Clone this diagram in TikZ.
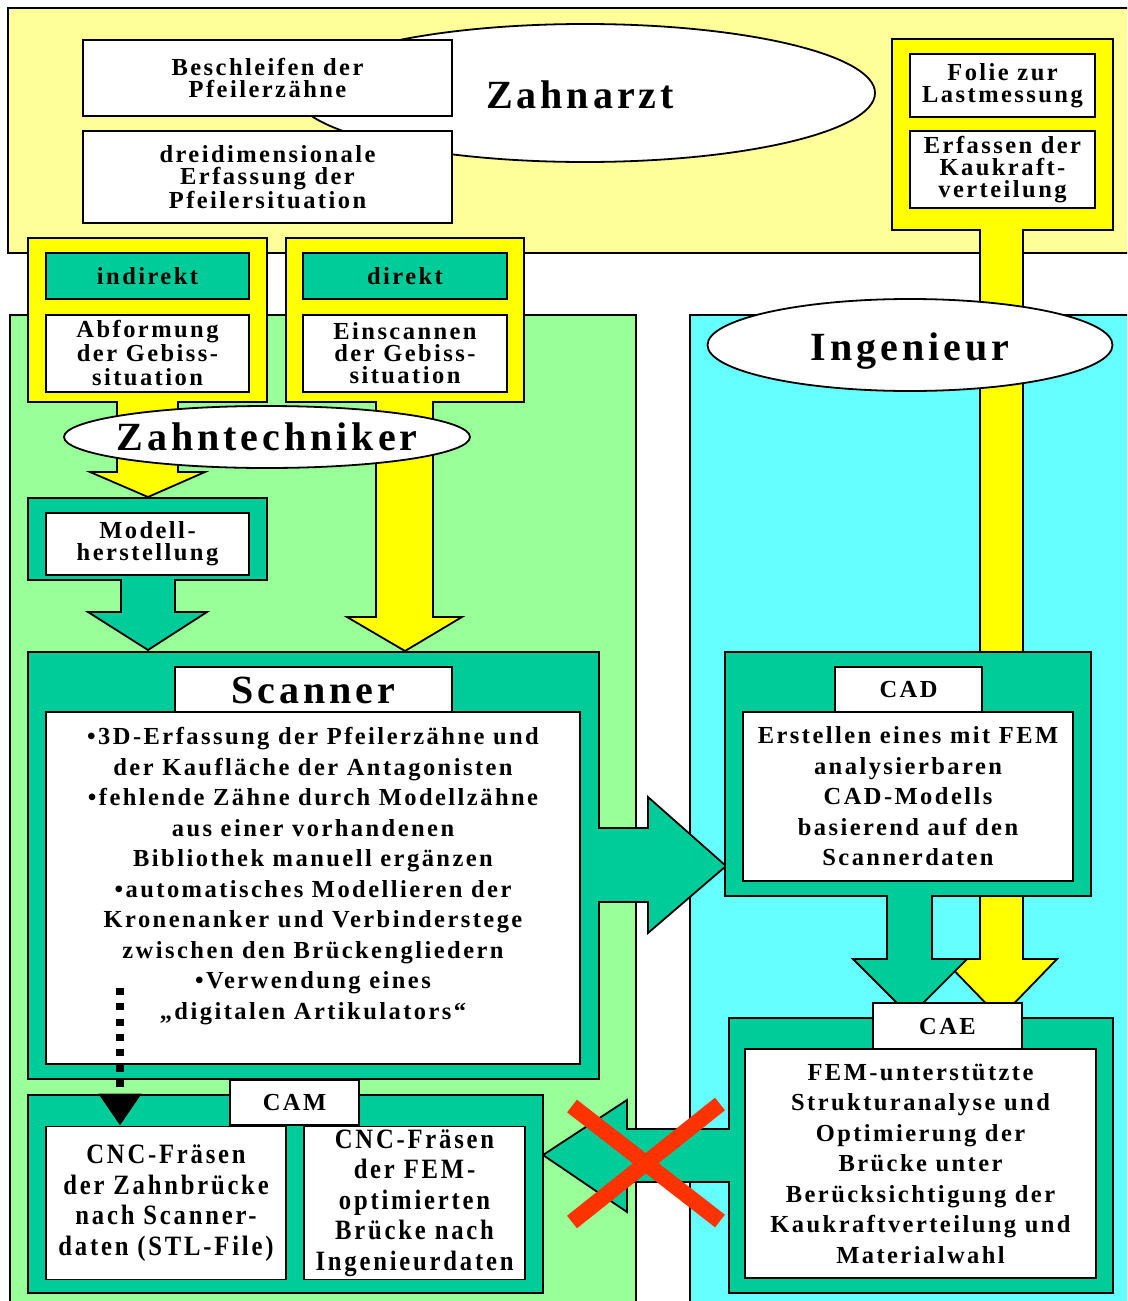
\documentclass[tikz,border=0pt]{standalone}
\usepackage{fontspec}
\usetikzlibrary{shapes.geometric,arrows.meta}
\newfontfamily\dfont{Liberation Serif}[LetterSpace=10]
\newfontfamily\cfont{Liberation Serif}[LetterSpace=10,FakeStretch=0.88]
\definecolor{zyellow}{HTML}{FFFF99}
\definecolor{yyellow}{HTML}{FFFF00}
\definecolor{zgreen}{HTML}{99FF99}
\definecolor{zcyan}{HTML}{66FFFF}
\definecolor{zteal}{HTML}{00CC99}
\definecolor{zred}{HTML}{FF3300}
\begin{document}
\begin{tikzpicture}[x=1pt,y=-1pt,line join=miter,
  outl/.style={draw=black,line width=1.8pt},
  boxfont/.style={font=\dfont\bfseries\fontsize{24.5}{22}\selectfont},
  wbox/.style={outl,fill=white,rectangle,inner sep=0pt,align=center,boxfont},
  tbox/.style={wbox,fill=zteal},
  bigtext/.style={font=\dfont\bfseries\fontsize{40}{44}\selectfont},
  ell/.style={outl,fill=white,ellipse,inner sep=0pt},
  wide/.style={font=\dfont\bfseries\fontsize{24.5}{30.5}\selectfont},
  camtext/.style={font=\cfont\bfseries\fontsize{28}{30.5}\selectfont},
  plain/.style={inner sep=0pt,align=center},
]
\useasboundingbox (0,0) rectangle (1127,1301);
\clip (0,0) rectangle (1127,1301);

% background panels
\draw[outl,fill=zyellow] (8,8) rectangle (1140,253);
\draw[outl,fill=zgreen] (10,315) rectangle (636,1320);
\draw[outl,fill=zcyan] (690,315) rectangle (1140,1320);

% Zahnarzt
\node[ell,minimum width=580pt,minimum height=138pt] (zahnarzt) at (585,93) {};
\node[plain,bigtext] (zahnarzttext) at (580,95) {Zahnarzt};
\node[wbox,minimum width=369pt,minimum height=76pt] (besch) at (267.5,78) {Beschleifen der\\Pfeilerzähne};
\node[wbox,minimum width=369pt,minimum height=92pt] (dreid) at (267.5,177) {dreidimensionale\\Erfassung der\\Pfeilersituation};

% Folie group with long stem to CAE
\draw[outl,fill=yyellow] (892,39) -- (1113,39) -- (1113,230) -- (1023,230) -- (1023,959) -- (1057,959) -- (1000,1018) -- (943,959) -- (980,959) -- (980,230) -- (892,230) -- cycle;
\node[wbox,minimum width=185pt,minimum height=63pt] (folie) at (1002.5,85.5) {Folie zur\\Lastmessung};
\node[wbox,minimum width=185pt,minimum height=77pt] (erf) at (1002.5,169.5) {Erfassen der\\Kaukraft-\\verteilung};

% indirekt group
\draw[outl,fill=yyellow] (28,238) -- (267,238) -- (267,402) -- (178,402) -- (178,472) -- (205,472) -- (148,497) -- (90,472) -- (117,472) -- (117,402) -- (28,402) -- cycle;
\node[tbox,minimum width=203pt,minimum height=46pt] (indir) at (147.5,276) {indirekt};
\node[wbox,font=\dfont\bfseries\fontsize{24.5}{24}\selectfont,minimum width=203pt,minimum height=77pt] (abf) at (147.5,353.5) {Abformung\\der Gebiss-\\situation};

% direkt group
\draw[outl,fill=yyellow] (286,238) -- (524,238) -- (524,402) -- (433,402) -- (433,617) -- (462,617) -- (405,651) -- (347,617) -- (376,617) -- (376,402) -- (286,402) -- cycle;
\node[tbox,minimum width=204pt,minimum height=46pt] (dir) at (405,276) {direkt};
\node[wbox,minimum width=204pt,minimum height=77pt] (einsc) at (405,353.5) {Einscannen\\der Gebiss-\\situation};

% Zahntechniker
\node[ell,minimum width=406pt,minimum height=62pt] (zahntech) at (267,437) {};
\node[plain,bigtext] (zahntechtext) at (267,437) {Zahntechniker};

% Modellherstellung
\draw[outl,fill=zteal] (28,498) -- (267,498) -- (267,580) -- (175,580) -- (175,612) -- (207,612) -- (148,650) -- (88,612) -- (121,612) -- (121,580) -- (28,580) -- cycle;
\node[wbox,minimum width=203pt,minimum height=62pt] (modell) at (147.5,544) {Modell-\\herstellung};

% Scanner with arrow to CAD
\draw[outl,fill=zteal] (28,652) -- (599,652) -- (599,828) -- (648,828) -- (648,797) -- (726,866) -- (648,933) -- (648,902) -- (599,902) -- (599,1079) -- (28,1079) -- cycle;
\node[wbox,bigtext,minimum width=277pt,minimum height=46pt] (scanlab) at (313.5,690) {Scanner};
\node[wbox,minimum width=534pt,minimum height=352pt] (scanw) at (313,888) {};
\node[plain,wide] (scantext) at (313,876) {•3D-Erfassung der Pfeilerzähne und\\der Kaufläche der Antagonisten\\•fehlende Zähne durch Modellzähne\\aus einer vorhandenen\\Bibliothek manuell ergänzen\\•automatisches Modellieren der\\Kronenanker und Verbinderstege\\zwischen den Brückengliedern\\•Verwendung eines\\„digitalen Artikulators“};

% Ingenieur
\node[ell,minimum width=405pt,minimum height=92pt] (ingen) at (910,345) {};
\node[plain,bigtext] (ingentext) at (910,351) {Ingenieur};

% CAD with arrow to CAE
\draw[outl,fill=zteal] (725,652) -- (1091,652) -- (1091,896) -- (932,896) -- (932,959) -- (967,959) -- (910,1016) -- (853,959) -- (887,959) -- (887,896) -- (725,896) -- cycle;
\node[wbox,minimum width=147pt,minimum height=45pt] (cadlab) at (908.5,689.5) {CAD};
\node[wbox,wide,minimum width=330pt,minimum height=169pt] (cadw) at (908,796.5) {Erstellen eines mit FEM\\analysierbaren\\CAD-Modells\\basierend auf den\\Scannerdaten};

% CAE with arrow to CAM
\draw[outl,fill=zteal] (729,1018) -- (1113,1018) -- (1113,1293) -- (729,1293) -- (729,1182) -- (627,1182) -- (627,1212) -- (543,1155) -- (627,1100) -- (627,1129) -- (729,1129) -- cycle;
\node[wbox,minimum width=149pt,minimum height=46pt] (caelab) at (947.5,1026) {CAE};
\node[wbox,wide,minimum width=351pt,minimum height=229pt] (caew) at (920.5,1163.5) {FEM-unterstützte\\Strukturanalyse und\\Optimierung der\\Brücke unter\\Berücksichtigung der\\Kaukraftverteilung und\\Materialwahl};

% CAM
\draw[outl,fill=zteal] (28,1095) rectangle (543,1293);
\node[wbox,minimum width=129pt,minimum height=45pt] (camlab) at (294.5,1102.5) {CAM};
\node[wbox,camtext,minimum width=240pt,minimum height=153pt] (cnc1) at (166,1203) {CNC-Fräsen\\der Zahnbrücke\\nach Scanner-\\daten (STL-File)};
\node[wbox,camtext,minimum width=221pt,minimum height=153pt] (cnc2) at (414.5,1203) {CNC-Fräsen\\der FEM-\\optimierten\\Brücke nach\\Ingenieurdaten};

% dotted arrow from scanner to CNC
\coordinate (dotstart) at (120,988);
\draw[line width=8pt,dash pattern=on 7pt off 8.3pt,-{Triangle[width=41pt,length=32pt]}] (dotstart) -- (dotstart |- cnc1.north);

% red cross
\coordinate (xa) at (572,1106);
\coordinate (xb) at (720,1221);
\coordinate (xc) at (572,1222);
\coordinate (xd) at (720,1104);
\draw[zred,line width=16pt] (xa) -- (xb);
\draw[zred,line width=16pt] (xc) -- (xd);
\end{tikzpicture}
\end{document}
